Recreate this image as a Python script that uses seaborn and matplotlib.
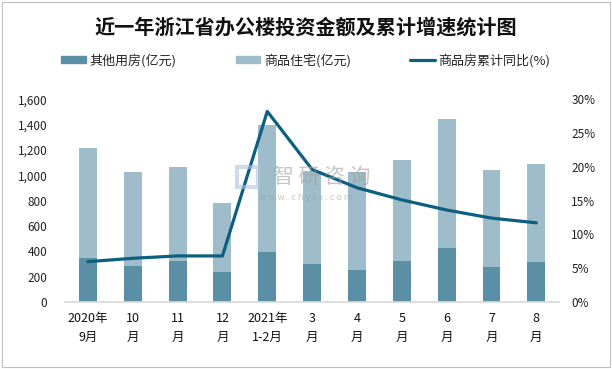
import matplotlib.pyplot as plt
import matplotlib.patches as mpatches
from matplotlib.lines import Line2D
from matplotlib.ticker import FuncFormatter
import numpy as np
import pandas as pd
import seaborn as sns

# Data
months = ['2020年\n9月', '10\n月', '11\n月', '12\n月', '2021年\n1-2月', '3\n月',
          '4\n月', '5\n月', '6\n月', '7\n月', '8\n月']
other_use = [345, 282, 322, 235, 393, 298, 251, 322, 425, 275, 314]      # 其他用房(亿元)
housing = [868, 743, 743, 545, 1004, 737, 774, 798, 1020, 766, 775]       # 商品住宅(亿元)
growth = [5.95, 6.45, 6.8, 6.8, 28.2, 19.6, 16.9, 15.1, 13.6, 12.4, 11.7]  # 商品房累计同比(%)

df = pd.DataFrame({'month': months, 'other': other_use, 'housing': housing, 'growth': growth})
df['total'] = df['other'] + df['housing']

c_dark = '#5B8FA6'
c_light = '#9EBCCA'
c_line = '#0C5F80'

sns.set_theme(style='white')
plt.rcParams['font.family'] = ['Noto Sans CJK SC', 'DejaVu Sans']

fig = plt.figure(figsize=(6.12, 3.69), dpi=100)
ax = fig.add_axes([0.107, 0.182, 0.806, 0.549])

# stacked bars: total first, lower part drawn on top
sns.barplot(data=df, x='month', y='total', color=c_light, width=0.4, saturation=1,
            linewidth=0, ax=ax)
sns.barplot(data=df, x='month', y='other', color=c_dark, width=0.4, saturation=1,
            linewidth=0, ax=ax)

ax.set_xlim(-0.5, 10.5)
ax.set_ylim(0, 1600)
ax.set_yticks(range(0, 1601, 200))
ax.yaxis.set_major_formatter(FuncFormatter(lambda v, p: f'{int(v):,}'))
ax.set_xlabel('')
ax.set_ylabel('')
for s in ['top', 'left', 'right']:
    ax.spines[s].set_visible(False)
ax.spines['bottom'].set_color('#D9D9D9')
ax.tick_params(axis='y', length=0, pad=13, labelsize=8.5, labelcolor='#222222')
ax.tick_params(axis='x', length=0, pad=7, labelsize=9, labelcolor='#111111')
for lbl in ax.get_xticklabels():
    lbl.set_linespacing(1.6)

# cumulative growth line on the right axis
ax2 = ax.twinx()
sns.lineplot(x=np.arange(len(growth)), y=df['growth'], color=c_line, linewidth=2.3,
             sort=False, ax=ax2)
ax2.set_ylim(0, 30)
ax2.set_yticks(range(0, 31, 5))
ax2.yaxis.set_major_formatter(FuncFormatter(lambda v, p: f'{int(v)}%'))
ax2.set_ylabel('')
for s in ax2.spines.values():
    s.set_visible(False)
ax2.tick_params(axis='y', length=0, pad=9, labelsize=8.5, labelcolor='#222222')
ax.set_xlim(-0.5, 10.5)

# watermark (drawn over the plot, semi-transparent)
fig.patches.append(mpatches.Rectangle((237 / 612, 1 - 187 / 369), 21 / 612, 20 / 369,
                                      transform=fig.transFigure, fill=False,
                                      edgecolor='#AFC3E0', linewidth=3, alpha=0.6, zorder=5))
fig.text(322 / 612, 1 - 177 / 369, '智 研 咨 询', fontsize=15, color='#A0A0A0', alpha=0.6,
         ha='center', va='center', zorder=5)
fig.text(306 / 612, 1 - 197 / 369, 'w w w . c h y x x . c o m', fontsize=6.5, color='#A0A0A0',
         alpha=0.6, ha='center', va='center', zorder=5)

# title
fig.text(0.499, 0.928, '近一年浙江省办公楼投资金额及累计增速统计图', fontsize=14.5,
         fontweight='bold', ha='center', va='center', color='#111111')

# legend
handles = [mpatches.Patch(color=c_dark, label='其他用房(亿元)'),
           mpatches.Patch(color=c_light, label='商品住宅(亿元)'),
           Line2D([0], [0], color=c_line, linewidth=2.3, label='商品房累计同比(%)')]
fig.legend(handles=handles, loc='center', bbox_to_anchor=(0.5, 0.836), ncol=3,
           frameon=False, fontsize=9.4, handlelength=1.85, handleheight=0.45,
           handletextpad=0.3, columnspacing=4.55)

# outer border
fig.patches.append(mpatches.Rectangle((0.004, 0.006), 0.992, 0.988, transform=fig.transFigure,
                                      fill=False, edgecolor='#BFBFBF', linewidth=0.8))

fig.savefig('out.png', dpi=100)
